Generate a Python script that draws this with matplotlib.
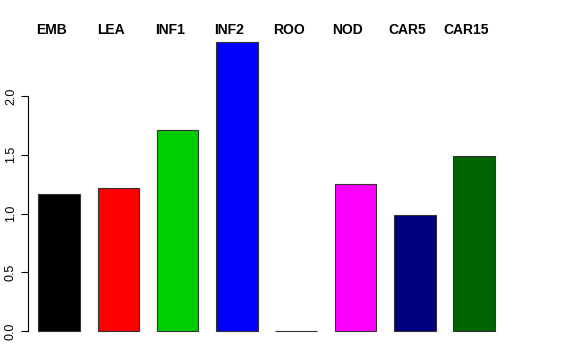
import matplotlib
matplotlib.use("Agg")
import matplotlib.pyplot as plt
import numpy as np

plt.rcParams['font.family'] = ['Liberation Sans', 'DejaVu Sans']

# data
labels = ['EMB', 'LEA', 'INF1', 'INF2', 'ROO', 'NOD', 'CAR5', 'CAR15']
values = [1.17, 1.22, 1.71, 2.46, 0.0, 1.25, 0.99, 1.49]
colors = ['#000000', '#ff0000', '#00cd00', '#0000ff', '#00ffff',
          '#ff00ff', '#000080', '#006400']

pos = np.arange(len(values))

fig = plt.figure(figsize=(5.76, 3.6), dpi=100)
ax = fig.add_axes([19 / 576, 17.5 / 360, 494 / 576, 312 / 360])

ax.bar(pos, values, width=0.7, color=colors, edgecolor='#333333', linewidth=0.8)

ax.set_xlim(-0.675, 7.656)
ax.set_ylim(-0.098, 2.558)

# labels sit a little left of the bar centres, as in the original
for x, lab in zip(pos, labels):
    ax.text(x - 0.13, 2.565, lab, ha='center', va='center', fontsize=10,
            fontweight='bold', clip_on=False)

# axis like R: only a left axis line from 0 to 2
for s in ['top', 'right', 'bottom']:
    ax.spines[s].set_visible(False)
ax.spines['left'].set_position(('data', -0.523))
ax.spines['left'].set_bounds(0, 2)
ax.spines['left'].set_linewidth(0.8)
ax.set_xticks([])
ax.set_yticks([0, 0.5, 1.0, 1.5, 2.0])
ax.set_yticklabels(['0.0', '0.5', '1.0', '1.5', '2.0'], rotation=90, va='center')
ax.tick_params(axis='y', length=5, width=0.8, labelsize=9, pad=3)

fig.savefig('out.png', dpi=100)
